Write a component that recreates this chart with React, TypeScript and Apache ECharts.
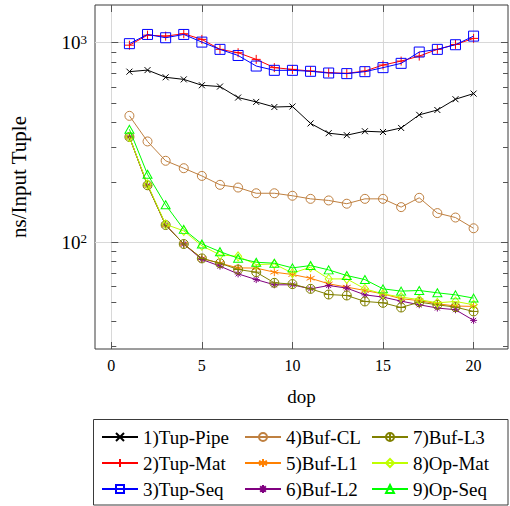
import React, { useEffect, useRef } from "react";
import * as echarts from "echarts";

// Degree of parallelism on the x axis
const dop = [1, 2, 3, 4, 5, 6, 7, 8, 9, 10, 11, 12, 13, 14, 15, 16, 17, 18, 19, 20];

// ns per input tuple for each strategy
const tupPipe = [716, 729, 671, 655, 612, 603, 531, 505, 476, 479, 394, 352, 344, 360, 357, 374, 435, 460, 521, 556];
const tupMat = [972, 1091, 1079, 1109, 1039, 926, 891, 825, 750, 735, 721, 708, 702, 721, 773, 809, 857, 926, 980, 1051];
const tupSeq = [989, 1100, 1059, 1100, 1007, 926, 863, 764, 727, 727, 719, 705, 700, 716, 750, 788, 898, 926, 977, 1079];
const bufCL = [430, 320, 256, 235, 215, 194, 188, 176, 176, 171, 165, 162, 156, 165, 165, 150, 167, 140, 133, 117.5];
const bufL1 = [337, 193, 122, 98, 83, 78.5, 74.4, 74.2, 70.8, 68.9, 66, 61.9, 59.6, 57.3, 55.1, 52.1, 51, 49.2, 47.9, 47.7];
const bufL2 = [337, 193, 122, 98, 82, 75.9, 69.4, 65, 61.2, 61.2, 58.4, 60.7, 58.9, 54.5, 53.1, 50.7, 48.6, 46.8, 45.9, 40.6];
const bufL3 = [337, 193, 122, 98, 83, 78.5, 73, 70.8, 62.6, 61.7, 58.4, 54.7, 54.1, 50.5, 49.7, 47.1, 50.1, 48.6, 47.3, 45];
const opMat = [337, 195, 123, 114, 96, 86.4, 85, 77.3, 77.8, 70, 75, 65.5, 65.5, 58.4, 55.1, 53.1, 51.6, 49.7, 50.5, 48.6];
const opSeq = [368, 219, 154, 116, 98, 89.7, 83.2, 79.4, 78.5, 74.4, 76.4, 72.7, 68.1, 65, 58.4, 56.9, 57.3, 55.8, 54.5, 52.5];

const seriesNames = [
  "1)Tup-Pipe", "2)Tup-Mat", "3)Tup-Seq",
  "4)Buf-CL", "5)Buf-L1", "6)Buf-L2",
  "7)Buf-L3", "8)Op-Mat", "9)Op-Seq",
];

// Axis ticks
const xTicks = [0, 5, 10, 15, 20];
const yMajor = [100, 1000];
const yMinor = [30, 40, 50, 60, 70, 80, 90, 200, 300, 400, 500, 600, 700, 800, 900];

// Plot marks drawn as stroked outlines
const MARK = {
  cross: "path://M0,0L10,10M10,0L0,10",
  plus: "path://M5,0L5,10M0,5L10,5",
  square: "path://M0,0L10,0L10,10L0,10Z",
  circle: "path://M10,5A5,5 0 1 1 0,5A5,5 0 1 1 10,5Z",
  asterisk: "path://M5,0L5,10M0.67,2.5L9.33,7.5M0.67,7.5L9.33,2.5",
  star: "path://M5,0L5,10M0,5L10,5M1.46,1.46L8.54,8.54M1.46,8.54L8.54,1.46",
  oplus: "path://M10,5A5,5 0 1 1 0,5A5,5 0 1 1 10,5ZM5,0L5,10M0,5L10,5",
  diamond: "path://M5,0L8.2,5L5,10L1.8,5Z",
  triangle: "path://M5,0L10,8.66L0,8.66Z",
};

const SERIF = "'Liberation Serif', 'Times New Roman', serif";
const FRAME = "#3a3a3a";
const TICK = "#555555";
const GRIDLINE = "#d8d8d8";
const CLEAR = "rgba(0,0,0,0)";

export default function App() {
  const ref = useRef<HTMLDivElement | null>(null);

  useEffect(() => {
    if (!ref.current) return;
    const chart = echarts.init(ref.current, null, { renderer: "svg" });

    const defs = [
      { values: tupPipe, color: "#000000", symbol: MARK.cross, size: [6, 6] },
      { values: tupMat, color: "#ff0000", symbol: MARK.plus, size: [9, 9] },
      { values: tupSeq, color: "#0000ff", symbol: MARK.square, size: [10, 10] },
      { values: bufCL, color: "#bf8040", symbol: MARK.circle, size: [9, 9] },
      { values: bufL1, color: "#ff8000", symbol: MARK.asterisk, size: [8, 8] },
      { values: bufL2, color: "#800080", symbol: MARK.star, size: [7, 7] },
      { values: bufL3, color: "#808000", symbol: MARK.oplus, size: [9, 9] },
      { values: opMat, color: "#bfff00", symbol: MARK.diamond, size: [7, 9] },
      { values: opSeq, color: "#00ff00", symbol: MARK.triangle, size: [9, 8] },
    ];

    const series = defs.map((d, k) => ({
      name: seriesNames[k],
      type: "line",
      xAxisIndex: 0,
      yAxisIndex: 0,
      data: dop.map((x, i) => [x, Math.log10(d.values[i])]),
      symbol: d.symbol,
      symbolSize: d.size,
      showAllSymbol: true,
      lineStyle: { color: d.color, width: 1 },
      itemStyle: { color: CLEAR, borderColor: d.color, borderWidth: 1 },
      emphasis: { disabled: true },
      z: 2 + k,
    }));

    const yMin = 1.465;
    const yMax = 3.189;
    const xMin = -0.9;
    const xMax = 21.9;

    const baseY = (position: string, ticks: number[], len: number, labels: boolean, split: boolean) => ({
      type: "value",
      position,
      min: yMin,
      max: yMax,
      axisLine: { show: false },
      axisTick: {
        show: true,
        inside: true,
        length: len,
        customValues: ticks.map((v) => Math.log10(v)),
        lineStyle: { color: TICK, width: 1 },
      },
      axisLabel: labels
        ? {
            show: true,
            margin: 8,
            customValues: yMajor.map((v) => Math.log10(v)),
            formatter: (v: number) => `{b|10}{s|${Math.round(v)}}`,
            rich: {
              b: { fontFamily: SERIF, fontSize: 19, color: "#000", lineHeight: 20 },
              s: { fontFamily: SERIF, fontSize: 13, color: "#000", lineHeight: 13, verticalAlign: "top" },
            },
          }
        : { show: false },
      splitLine: { show: split, lineStyle: { color: GRIDLINE, width: 1 } },
      minorTick: { show: false },
    });

    const baseX = (position: string, labels: boolean, split: boolean) => ({
      type: "value",
      position,
      min: xMin,
      max: xMax,
      axisLine: { show: false },
      axisTick: {
        show: true,
        inside: true,
        length: 7,
        customValues: xTicks,
        lineStyle: { color: TICK, width: 1 },
      },
      axisLabel: labels
        ? {
            show: true,
            margin: 8,
            customValues: xTicks,
            fontFamily: SERIF,
            fontSize: 16,
            color: "#000",
          }
        : { show: false },
      splitLine: { show: split, lineStyle: { color: GRIDLINE, width: 1 } },
    });

    const legendCol = (names: string[], left: number) => ({
      data: names,
      orient: "vertical",
      left,
      top: 427,
      padding: 0,
      itemWidth: 36,
      itemHeight: 10,
      itemGap: 6,
      selectedMode: false,
      itemStyle: { color: CLEAR },
      textStyle: { fontFamily: SERIF, fontSize: 19, color: "#000", lineHeight: 20 },
    });

    chart.setOption({
      animation: false,
      backgroundColor: "#ffffff",
      textStyle: { fontFamily: SERIF },
      grid: {
        left: 94,
        top: 5,
        width: 414,
        height: 344,
        show: true,
        borderColor: FRAME,
        borderWidth: 1,
        backgroundColor: CLEAR,
      },
      xAxis: [
        {
          ...baseX("bottom", true, true),
          name: "dop",
          nameLocation: "middle",
          nameGap: 38,
          nameTextStyle: { fontFamily: SERIF, fontSize: 19, color: "#000" },
        },
        baseX("top", false, false),
      ],
      yAxis: [
        {
          ...baseY("left", yMajor, 7, true, true),
          name: "ns/Input Tuple",
          nameLocation: "middle",
          nameRotate: 90,
          nameGap: 66,
          nameTextStyle: { fontFamily: SERIF, fontSize: 21, color: "#000" },
        },
        baseY("left", yMinor, 5, false, false),
        baseY("right", yMajor, 7, false, false),
        baseY("right", yMinor, 5, false, false),
      ],
      legend: [
        legendCol([seriesNames[0], seriesNames[1], seriesNames[2]], 101),
        legendCol([seriesNames[3], seriesNames[4], seriesNames[5]], 244),
        legendCol([seriesNames[6], seriesNames[7], seriesNames[8]], 371),
      ],
      graphic: [
        {
          type: "rect",
          silent: true,
          shape: { x: 93.5, y: 419.5, width: 414.5, height: 85.5 },
          style: { fill: "none", stroke: FRAME, lineWidth: 1 },
        },
      ],
      series,
    });

    return () => chart.dispose();
  }, []);

  return (
    <div
      ref={ref}
      style={{ position: "fixed", left: 0, top: 0, width: 510, height: 506, background: "#fff" }}
    />
  );
}
